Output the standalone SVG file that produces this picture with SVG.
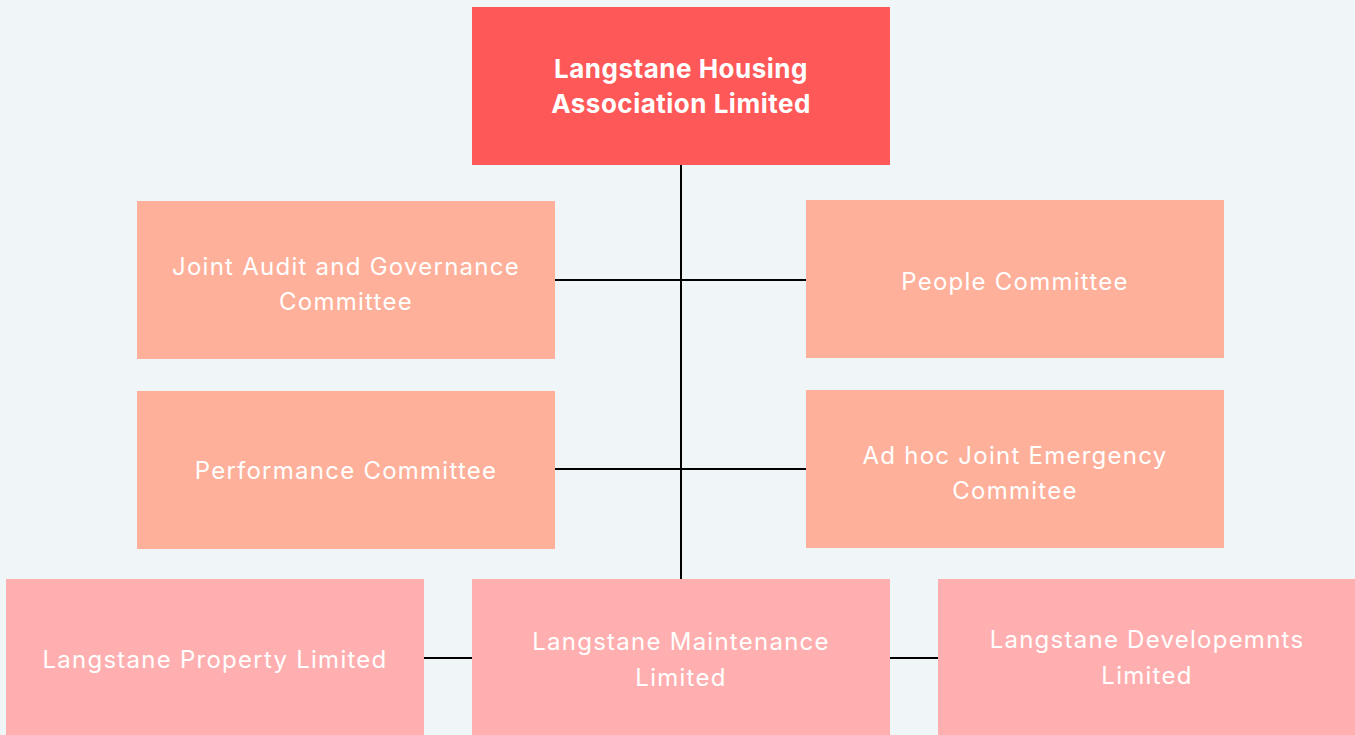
<svg xmlns="http://www.w3.org/2000/svg" width="1355" height="735" viewBox="0 0 1355 735">
<style>
.t{font-family:Inter,"Noto Sans",sans-serif;fill:#fff;text-anchor:middle;dominant-baseline:central}
.b{font-size:26px;font-weight:700;letter-spacing:0.5px}
.c{font-size:24px;letter-spacing:1.25px}
.top{fill:#FF5858}
.com{fill:#FFB09A}
.sub{fill:#FFAFAF}
.ln{stroke:#000;stroke-width:2;fill:none}
</style>
<rect width="1355" height="735" fill="#F0F5F8"/>
<g id="connectors">
<line class="ln" x1="681" y1="165" x2="681" y2="579"/>
<line class="ln" x1="555" y1="280" x2="806" y2="280"/>
<line class="ln" x1="555" y1="469" x2="806" y2="469"/>
<line class="ln" x1="424" y1="658" x2="472" y2="658"/>
<line class="ln" x1="890" y1="658" x2="938" y2="658"/>
</g>
<g id="lhal">
<rect class="top" x="472" y="7" width="418" height="158"/>
<text class="t b" x="681" y="68">Langstane Housing</text>
<text class="t b" x="681" y="103">Association Limited</text>
</g>
<g id="audit">
<rect class="com" x="137" y="201" width="418" height="158"/>
<text class="t c" x="346" y="266">Joint Audit and Governance</text>
<text class="t c" x="346" y="301">Committee</text>
</g>
<g id="people">
<rect class="com" x="806" y="200" width="418" height="158"/>
<text class="t c" x="1015" y="281">People Committee</text>
</g>
<g id="performance">
<rect class="com" x="137" y="391" width="418" height="158"/>
<text class="t c" x="346" y="470">Performance Committee</text>
</g>
<g id="adhoc">
<rect class="com" x="806" y="390" width="418" height="158"/>
<text class="t c" x="1015" y="455">Ad hoc Joint Emergency</text>
<text class="t c" x="1015" y="490">Commitee</text>
</g>
<g id="property">
<rect class="sub" x="6" y="579" width="418" height="160"/>
<text class="t c" x="215" y="659">Langstane Property Limited</text>
</g>
<g id="maintenance">
<rect class="sub" x="472" y="579" width="418" height="160"/>
<text class="t c" x="681" y="641">Langstane Maintenance</text>
<text class="t c" x="681" y="677">Limited</text>
</g>
<g id="developments">
<rect class="sub" x="938" y="579" width="418" height="160"/>
<text class="t c" x="1147" y="639">Langstane Developemnts</text>
<text class="t c" x="1147" y="675">Limited</text>
</g>
</svg>
